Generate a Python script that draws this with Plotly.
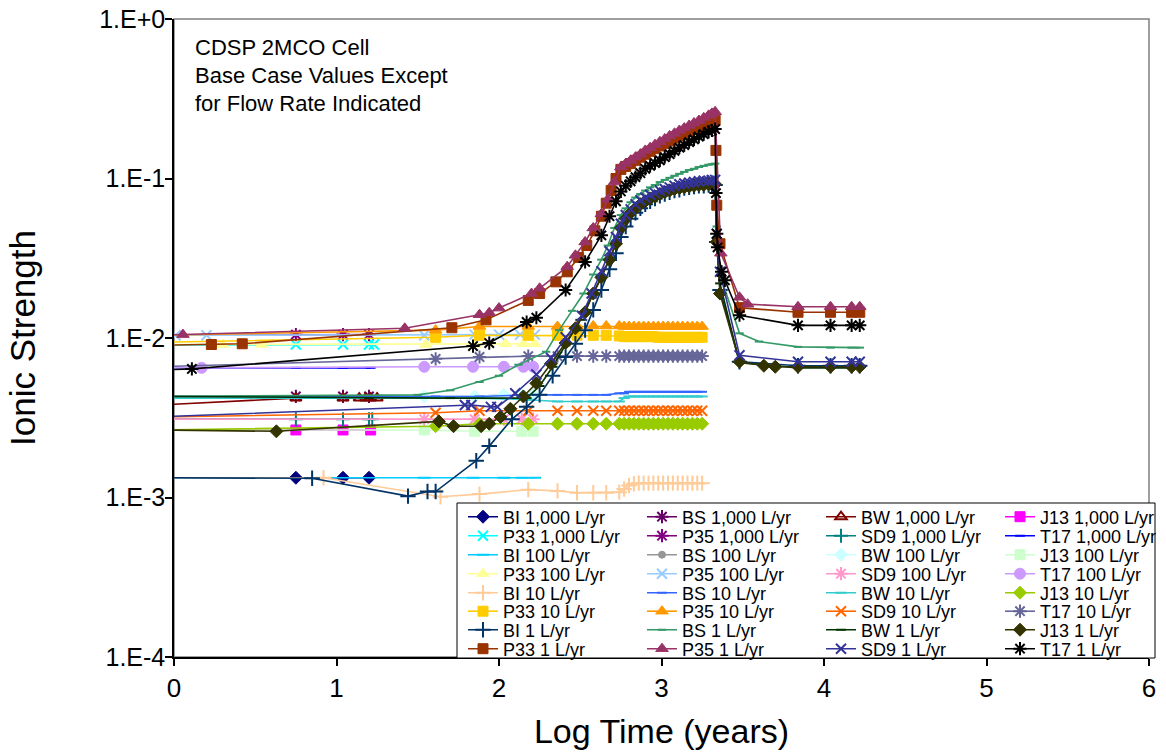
import plotly.graph_objects as go

# ------------------------------------------------------------------
# Data: x = log10 time (years), y = ionic strength (molal)
# ------------------------------------------------------------------
# ---- 1,000 L/yr ----
t_BI_1000 = [-0.1, 0.75, 1.04, 1.20]
v_BI_1000 = [0.00133, 0.00133, 0.00133, 0.00133]
t_BS_1000 = [-0.1, 0.75, 1.04, 1.20]
v_BS_1000 = [0.0043, 0.0043, 0.0043, 0.0043]
t_BW_1000 = [-0.1, 0.75, 1.04, 1.14, 1.18, 1.21, 1.25]
v_BW_1000 = [0.0038, 0.0042, 0.0042, 0.0042, 0.0042, 0.0042, 0.0042]
t_J13_1000 = [-0.1, 0.75, 1.04, 1.21]
v_J13_1000 = [0.00265, 0.00265, 0.00265, 0.00265]
t_P33_1000 = [-0.1, 0.75, 1.04, 1.20, 1.23]
v_P33_1000 = [0.0090, 0.0091, 0.0091, 0.0091, 0.0091]
t_P35_1000 = [-0.1, 0.75, 1.04, 1.20]
v_P35_1000 = [0.0104, 0.0105, 0.0105, 0.0105]
t_SD9_1000 = [-0.1, 0.75, 1.04, 1.20, 1.22]
v_SD9_1000 = [0.0031, 0.0031, 0.0031, 0.0031, 0.0031]
t_T17_1000 = [-0.1, 0.75, 1.04, 1.21]
v_T17_1000 = [0.0065, 0.0065, 0.0065, 0.0065]

# ---- 100 L/yr ----
t_BI_100 = [-0.1, 1.54, 1.84, 2.03, 2.14, 2.22]
v_BI_100 = [0.00133, 0.00133, 0.00133, 0.00133, 0.00133, 0.00133]
t_BS_100 = [-0.1, 1.54, 1.85, 2.03, 2.14, 2.21]
v_BS_100 = [0.0043, 0.0043, 0.0043, 0.0044, 0.0044, 0.0044]
t_BW_100 = [-0.1, 1.54, 1.85, 2.03, 2.14, 2.21]
v_BW_100 = [0.0043, 0.0043, 0.0043, 0.0044, 0.0044, 0.0044]
t_J13_100 = [-0.1, 1.54, 1.85, 2.14, 2.21]
v_J13_100 = [0.00265, 0.00265, 0.0026, 0.0026, 0.0026]
t_P33_100 = [-0.1, 0.30, 0.54, 1.55, 1.85, 2.04, 2.15, 2.22]
v_P33_100 = [0.0091, 0.0091, 0.0091, 0.0091, 0.0091, 0.0092, 0.0092, 0.0092]
t_P35_100 = [0.01, 0.20, 1.54, 1.85, 2.00, 2.13, 2.22]
v_P35_100 = [0.0104, 0.0104, 0.0104, 0.0105, 0.0105, 0.0105, 0.0105]
t_SD9_100 = [-0.1, 1.54, 1.85, 2.03, 2.14, 2.21]
v_SD9_100 = [0.0031, 0.0031, 0.0031, 0.0031, 0.0031, 0.0031]
t_T17_100 = [-0.1, 0.17, 1.54, 1.84, 2.03, 2.15, 2.21]
v_T17_100 = [0.0065, 0.0065, 0.0066, 0.0066, 0.0066, 0.0066, 0.0066]

# ---- 10 L/yr ----
t_10 = [-0.1, 1.61, 1.88, 2.18, 2.36, 2.48, 2.58, 2.66, 2.74, 2.77, 2.80, 2.83, 2.86,
        2.89, 2.92, 2.95, 2.98, 3.01, 3.04, 3.07, 3.10, 3.13, 3.16, 3.19, 3.22, 3.25]
t_BI_10 = [-0.1, 0.92, 1.64, 1.88, 2.18, 2.36, 2.48, 2.58, 2.66, 2.74, 2.77, 2.80, 2.83,
           2.86, 2.89, 2.92, 2.95, 2.98, 3.01, 3.04, 3.07, 3.10, 3.13, 3.16, 3.19, 3.22, 3.25]
v_BI_10 = [0.00133, 0.00133, 0.00101, 0.00105, 0.00112, 0.00110, 0.00107, 0.00107, 0.00107,
           0.00108, 0.00113, 0.00119, 0.00122, 0.00123, 0.00123, 0.00123, 0.00123, 0.00123,
           0.00123, 0.00123, 0.00123, 0.00123, 0.00123, 0.00123, 0.00123, 0.00123, 0.00123]
v_BS_10 = [0.0043, 0.0043, 0.0043, 0.0044, 0.0044, 0.0044, 0.0044, 0.0044, 0.0045, 0.0045,
           0.0046, 0.0046, 0.0046, 0.0046, 0.0046, 0.0046, 0.0046, 0.0046, 0.0046, 0.0046,
           0.0046, 0.0046, 0.0046, 0.0046, 0.0046, 0.0046]
v_BW_10 = [0.0042, 0.0042, 0.0042, 0.0041, 0.0040, 0.0040, 0.0040, 0.0040, 0.0040, 0.0042,
           0.0043, 0.0043, 0.0043, 0.0043, 0.0043, 0.0043, 0.0043, 0.0043, 0.0043, 0.0043,
           0.0043, 0.0043, 0.0043, 0.0043, 0.0043, 0.0043]
v_J13_10 = [0.00265, 0.0028, 0.0029, 0.0029, 0.0029, 0.0029, 0.0029, 0.0029, 0.0029, 0.0029,
            0.0029, 0.0029, 0.0029, 0.0029, 0.0029, 0.0029, 0.0029, 0.0029, 0.0029, 0.0029,
            0.0029, 0.0029, 0.0029, 0.0029, 0.0029, 0.0029]
v_P33_10 = [0.0094, 0.0101, 0.0104, 0.0104, 0.0104, 0.0104, 0.0104, 0.0104, 0.0103, 0.0102,
            0.0102, 0.0102, 0.0102, 0.0102, 0.0102, 0.0102, 0.0101, 0.0101, 0.0101, 0.0101,
            0.0101, 0.0101, 0.0101, 0.0101, 0.0101, 0.0101]
v_P35_10 = [0.0104, 0.0112, 0.0118, 0.0118, 0.0118, 0.0119, 0.0119, 0.0119, 0.0119, 0.0118,
            0.0118, 0.0118, 0.0118, 0.0118, 0.0118, 0.0118, 0.0118, 0.0118, 0.0118, 0.0118,
            0.0118, 0.0118, 0.0118, 0.0118, 0.0118, 0.0118]
v_SD9_10 = [0.0032, 0.0034, 0.0035, 0.0035, 0.0035, 0.0035, 0.0035, 0.0035, 0.0035, 0.0035,
            0.0035, 0.0035, 0.0035, 0.0035, 0.0035, 0.0035, 0.0035, 0.0035, 0.0035, 0.0035,
            0.0035, 0.0035, 0.0035, 0.0035, 0.0035, 0.0035]
v_T17_10 = [0.0066, 0.0074, 0.0076, 0.0077, 0.0077, 0.0077, 0.0077, 0.0077, 0.0077, 0.0077,
            0.0077, 0.0077, 0.0077, 0.0077, 0.0077, 0.0077, 0.0077, 0.0077, 0.0077, 0.0077,
            0.0077, 0.0077, 0.0077, 0.0077, 0.0077, 0.0077]

# ---- 1 L/yr ----
t_1_peak = [2.75, 2.78, 2.81, 2.84, 2.87, 2.90, 2.93, 2.96, 2.99, 3.02, 3.05,
            3.08, 3.11, 3.14, 3.17, 3.20, 3.23, 3.26, 3.29, 3.31, 3.33]
t_1_tail = [3.48, 3.84, 4.04, 4.17, 4.22]

t_BI_1 = [-0.1, 0.85, 1.44, 1.56, 1.61, 1.86, 1.94, 2.08, 2.17, 2.25, 2.33, 2.41, 2.47,
          2.53, 2.58, 2.63, 2.68, 2.72] + t_1_peak + [3.34, 3.36] + t_1_tail
v_BI_1 = [0.00133, 0.00132, 0.00102, 0.00109, 0.00109, 0.0017, 0.0021, 0.0031, 0.0037,
          0.0044, 0.0058, 0.0076, 0.0092, 0.0112, 0.015, 0.020, 0.027, 0.034,
          0.043, 0.050, 0.056, 0.061, 0.065, 0.069, 0.072, 0.075, 0.078, 0.080, 0.082,
          0.084, 0.085, 0.087, 0.088, 0.089, 0.090, 0.090, 0.091, 0.091, 0.091,
          0.040, 0.020,
          0.0071, 0.0067, 0.0067, 0.0067, 0.0067]

t_BS_1 = [-0.1, 1.50, 1.70, 1.88, 2.00, 2.12, 2.29, 2.37, 2.45, 2.52, 2.58, 2.63, 2.67,
          2.71] + t_1_peak + [3.34, 3.36] + [3.48, 3.60, 3.84, 4.04, 4.17, 4.22]
v_BS_1 = [0.0043, 0.0044, 0.0047, 0.0053, 0.0058, 0.0068, 0.0082, 0.0112, 0.0148, 0.019,
          0.025, 0.031, 0.038, 0.049,
          0.059, 0.065, 0.071, 0.076, 0.080, 0.084, 0.088, 0.091, 0.095, 0.098, 0.101,
          0.104, 0.107, 0.110, 0.113, 0.115, 0.118, 0.120, 0.122, 0.123, 0.124,
          0.050, 0.025,
          0.0107, 0.0095, 0.0088, 0.0087, 0.0087, 0.0087]

t_BW_1 = [-0.1, 1.20, 1.70, 2.17, 2.25, 2.33, 2.41, 2.50, 2.58, 2.63, 2.68,
          2.72] + t_1_peak + [3.34, 3.36] + t_1_tail
v_BW_1 = [0.0043, 0.0042, 0.0042, 0.0042, 0.0050, 0.0066, 0.0090, 0.013, 0.019, 0.024,
          0.031, 0.039,
          0.050, 0.057, 0.062, 0.066, 0.070, 0.073, 0.076, 0.078, 0.080, 0.082, 0.084,
          0.086, 0.087, 0.088, 0.089, 0.090, 0.091, 0.091, 0.092, 0.092, 0.092,
          0.040, 0.022,
          0.0070, 0.0065, 0.0065, 0.0065, 0.0065]

t_J13_1 = [-0.1, 0.63, 1.63, 1.72, 1.89, 1.94, 2.01, 2.07, 2.15, 2.23, 2.32, 2.41, 2.47,
           2.53, 2.58, 2.63, 2.68, 2.72] + t_1_peak + [3.34, 3.36] + [3.48, 3.63, 3.70,
                                                                     3.84, 4.04, 4.17, 4.22]
v_J13_1 = [0.00265, 0.0026, 0.0030, 0.0028, 0.0028, 0.0029, 0.0032, 0.0036, 0.0043,
           0.0052, 0.0069, 0.0093, 0.0115, 0.0145, 0.019, 0.024, 0.031, 0.039,
           0.049, 0.056, 0.061, 0.065, 0.069, 0.072, 0.075, 0.077, 0.080, 0.082, 0.084,
           0.086, 0.087, 0.088, 0.089, 0.090, 0.091, 0.091, 0.092, 0.092, 0.092,
           0.040, 0.019,
           0.0071, 0.0067, 0.0066, 0.0066, 0.0066, 0.0066, 0.0066]

t_P33_1 = [-0.1, 0.23, 0.42, 1.71, 1.92, 2.18, 2.25, 2.35, 2.42, 2.49, 2.54, 2.59, 2.63,
           2.66, 2.69, 2.72] + t_1_peak + [3.335, 3.34, 3.36] + t_1_tail
v_P33_1 = [0.0090, 0.0091, 0.0092, 0.0116, 0.0130, 0.0172, 0.0190, 0.0225, 0.026, 0.032,
           0.038, 0.047, 0.058, 0.070, 0.084, 0.100,
           0.114, 0.119, 0.124, 0.130, 0.136, 0.142, 0.148, 0.154, 0.160, 0.166, 0.172,
           0.179, 0.185, 0.191, 0.197, 0.203, 0.209, 0.215, 0.222, 0.227, 0.232,
           0.150, 0.068, 0.039,
           0.0155, 0.0145, 0.0145, 0.0145, 0.0145]

t_P35_1 = [-0.1, 0.055, 1.42, 1.88, 1.94, 2.00, 2.20, 2.25, 2.42, 2.47, 2.53, 2.58, 2.63,
           2.67, 2.71] + t_1_peak + [3.365] + [3.48, 3.53, 3.84, 4.04, 4.17, 4.22]
v_P35_1 = [0.0104, 0.0105, 0.0115, 0.0140, 0.0144, 0.0154, 0.019, 0.0205, 0.028, 0.033,
           0.040, 0.049, 0.060, 0.074, 0.095,
           0.118, 0.124, 0.130, 0.136, 0.142, 0.150, 0.156, 0.163, 0.170, 0.177, 0.185,
           0.192, 0.200, 0.207, 0.215, 0.223, 0.231, 0.240, 0.249, 0.256, 0.262,
           0.034,
           0.0180, 0.0163, 0.0157, 0.0157, 0.0157, 0.0157]

t_SD9_1 = [-0.1, 1.79, 1.83, 1.95, 1.99, 2.10, 2.23, 2.32, 2.41, 2.51, 2.57, 2.63, 2.68,
           2.72] + t_1_peak + [3.34, 3.36] + t_1_tail
v_SD9_1 = [0.0032, 0.0038, 0.0038, 0.0037, 0.0037, 0.0045, 0.0059, 0.0075, 0.0101, 0.0138,
           0.019, 0.0262, 0.035, 0.043,
           0.052, 0.059, 0.064, 0.069, 0.073, 0.076, 0.079, 0.081, 0.084, 0.086, 0.088,
           0.090, 0.092, 0.093, 0.094, 0.095, 0.096, 0.097, 0.097, 0.098, 0.098,
           0.045, 0.026,
           0.0078, 0.0071, 0.0071, 0.0071, 0.0071]

t_T17_1 = [-0.1, 0.11, 1.84, 1.94, 2.17, 2.23, 2.41, 2.53, 2.63, 2.68,
           2.72] + t_1_peak + [3.335, 3.34, 3.345, 3.37, 3.39] + t_1_tail
v_T17_1 = [0.0063, 0.0064, 0.0089, 0.0093, 0.0126, 0.0134, 0.020, 0.030, 0.044, 0.058,
           0.072,
           0.083, 0.090, 0.096, 0.102, 0.108, 0.115, 0.120, 0.125, 0.130, 0.136, 0.142,
           0.149, 0.156, 0.162, 0.169, 0.176, 0.183, 0.190, 0.196, 0.200, 0.204,
           0.081, 0.045, 0.037, 0.026, 0.023,
           0.0139, 0.0120, 0.0120, 0.0120, 0.0120]

# ------------------------------------------------------------------
# Series order (Excel row-major legend order) and styles
# ------------------------------------------------------------------
rows = [
    [("BI 1,000 L/yr", t_BI_1000, v_BI_1000), ("BS 1,000 L/yr", t_BS_1000, v_BS_1000),
     ("BW 1,000 L/yr", t_BW_1000, v_BW_1000), ("J13 1,000 L/yr", t_J13_1000, v_J13_1000)],
    [("P33 1,000 L/yr", t_P33_1000, v_P33_1000), ("P35 1,000 L/yr", t_P35_1000, v_P35_1000),
     ("SD9 1,000 L/yr", t_SD9_1000, v_SD9_1000), ("T17 1,000 L/yr", t_T17_1000, v_T17_1000)],
    [("BI 100 L/yr", t_BI_100, v_BI_100), ("BS 100 L/yr", t_BS_100, v_BS_100),
     ("BW 100 L/yr", t_BW_100, v_BW_100), ("J13 100 L/yr", t_J13_100, v_J13_100)],
    [("P33 100 L/yr", t_P33_100, v_P33_100), ("P35 100 L/yr", t_P35_100, v_P35_100),
     ("SD9 100 L/yr", t_SD9_100, v_SD9_100), ("T17 100 L/yr", t_T17_100, v_T17_100)],
    [("BI 10 L/yr", t_BI_10, v_BI_10), ("BS 10 L/yr", t_10, v_BS_10),
     ("BW 10 L/yr", t_10, v_BW_10), ("J13 10 L/yr", t_10, v_J13_10)],
    [("P33 10 L/yr", t_10, v_P33_10), ("P35 10 L/yr", t_10, v_P35_10),
     ("SD9 10 L/yr", t_10, v_SD9_10), ("T17 10 L/yr", t_10, v_T17_10)],
    [("BI 1 L/yr", t_BI_1, v_BI_1), ("BS 1 L/yr", t_BS_1, v_BS_1),
     ("BW 1 L/yr", t_BW_1, v_BW_1), ("J13 1 L/yr", t_J13_1, v_J13_1)],
    [("P33 1 L/yr", t_P33_1, v_P33_1), ("P35 1 L/yr", t_P35_1, v_P35_1),
     ("SD9 1 L/yr", t_SD9_1, v_SD9_1), ("T17 1 L/yr", t_T17_1, v_T17_1)],
]

styles = {
    "BI 1,000 L/yr": ("#000080", "diamond", 10),
    "BS 1,000 L/yr": ("#660066", "asterisk-open", 11),
    "BW 1,000 L/yr": ("#800000", "triangle-up-open", 10),
    "J13 1,000 L/yr": ("#FF00FF", "square", 10),
    "P33 1,000 L/yr": ("#00FFFF", "x-thin-open", 10),
    "P35 1,000 L/yr": ("#800080", "asterisk-open", 11),
    "SD9 1,000 L/yr": ("#008080", "cross-thin-open", 10),
    "T17 1,000 L/yr": ("#0000FF", "line-ew-open", 7),
    "BI 100 L/yr": ("#00CCFF", "line-ew-open", 9),
    "BS 100 L/yr": ("#969696", "circle", 7),
    "BW 100 L/yr": ("#CCFFFF", "diamond", 10),
    "J13 100 L/yr": ("#CCFFCC", "square", 10),
    "P33 100 L/yr": ("#FFFF99", "triangle-up", 11),
    "P35 100 L/yr": ("#99CCFF", "x-thin-open", 10),
    "SD9 100 L/yr": ("#FF99CC", "asterisk-open", 11),
    "T17 100 L/yr": ("#CC99FF", "circle", 11),
    "BI 10 L/yr": ("#FFCC99", "cross-thin-open", 11),
    "BS 10 L/yr": ("#3366FF", "line-ew-open", 7),
    "BW 10 L/yr": ("#33CCCC", "line-ew-open", 8),
    "J13 10 L/yr": ("#99CC00", "diamond", 10),
    "P33 10 L/yr": ("#FFCC00", "square", 10),
    "P35 10 L/yr": ("#FF9900", "triangle-up", 11),
    "SD9 10 L/yr": ("#FF6600", "x-thin-open", 10),
    "T17 10 L/yr": ("#666699", "asterisk-open", 11),
    "BI 1 L/yr": ("#003366", "cross-thin-open", 11),
    "BS 1 L/yr": ("#339966", "line-ew-open", 6),
    "BW 1 L/yr": ("#003300", "line-ew-open", 7),
    "J13 1 L/yr": ("#333300", "diamond", 10),
    "P33 1 L/yr": ("#993300", "square", 10),
    "P35 1 L/yr": ("#993366", "triangle-up", 11),
    "SD9 1 L/yr": ("#333399", "x-thin-open", 10),
    "T17 1 L/yr": ("#000000", "asterisk-open", 11),
}

FONT = "Arial, Liberation Sans, sans-serif"
W, H = 1166, 752
ML, MR, MT, MB = 174, 17, 19, 95
PW, PH = W - ML - MR, H - MT - MB


def px_x(px):
    return (px - ML) / PW


def px_y(py):
    return (H - MB - py) / PH


fig = go.Figure()
row_centers = [517, 536, 555, 574, 593, 611.5, 630, 649]
legend_layouts = {}
for r, row in enumerate(rows):
    lid = "legend" if r == 0 else f"legend{r + 1}"
    for name, t, v in row:
        color, symbol, size = styles[name]
        if symbol.endswith("-open"):
            marker = dict(symbol=symbol, size=size, color=color,
                          line=dict(color=color, width=2))
        else:
            marker = dict(symbol=symbol, size=size, color=color,
                          line=dict(color=color, width=1))
        fig.add_trace(go.Scatter(
            x=t, y=v, name=name, mode="lines+markers",
            line=dict(color=color, width=1.6),
            marker=marker, legend=lid,
        ))
    legend_layouts[lid] = dict(
        orientation="h", x=px_x(463), xanchor="left",
        y=px_y(row_centers[r]), yanchor="middle",
        entrywidth=134, entrywidthmode="pixels",
        bgcolor="rgba(0,0,0,0)", borderwidth=0,
        font=dict(family=FONT, size=18, color="#000000"),
        itemclick=False, itemdoubleclick=False,
    )

fig.update_layout(**legend_layouts)

fig.update_layout(
    width=W, height=H,
    margin=dict(l=ML, r=MR, t=MT, b=MB, autoexpand=False),
    paper_bgcolor="#FFFFFF", plot_bgcolor="#FFFFFF",
    font=dict(family=FONT, color="#000000"),
    showlegend=True,
    xaxis=dict(
        range=[0, 6], tickvals=[0, 1, 2, 3, 4, 5, 6],
        ticks="outside", ticklen=7, tickwidth=1.5, tickcolor="#000000",
        showline=True, linecolor="#000000", linewidth=1.5,
        showgrid=False, zeroline=False,
        tickfont=dict(family=FONT, size=26, color="#000000"),
        title=dict(text="Log Time (years)", standoff=17,
                   font=dict(family=FONT, size=34, color="#000000")),
        automargin=False,
    ),
    yaxis=dict(
        type="log", range=[-4, 0],
        tickvals=[1e-4, 1e-3, 1e-2, 1e-1, 1],
        ticktext=["1.E-4", "1.E-3", "1.E-2", "1.E-1", "1.E+0"],
        ticks="outside", ticklen=7, tickwidth=1.5, tickcolor="#000000",
        ticklabelstandoff=-5,
        showline=True, linecolor="#000000", linewidth=1.5,
        showgrid=False, zeroline=False,
        tickfont=dict(family=FONT, size=25, color="#000000"),
        title=dict(text="Ionic Strength", standoff=53,
                   font=dict(family=FONT, size=35, color="#000000")),
        automargin=False,
    ),
    shapes=[
        # plot-area frame (top/right in gray)
        dict(type="rect", xref="paper", yref="paper", x0=0, x1=1, y0=0, y1=1,
             line=dict(color="#808080", width=1.5), fillcolor="rgba(0,0,0,0)",
             layer="below"),
        # legend box
        dict(type="rect", xref="paper", yref="paper",
             x0=px_x(457), x1=px_x(1155), y0=px_y(658), y1=px_y(503),
             line=dict(color="#000000", width=1), fillcolor="#FFFFFF",
             layer="above"),
    ],
    annotations=[
        dict(text="CDSP 2MCO Cell", xref="paper", yref="paper",
             x=px_x(193), y=px_y(47), xanchor="left", yanchor="middle",
             showarrow=False, font=dict(family=FONT, size=22, color="#000000")),
        dict(text="Base Case Values Except", xref="paper", yref="paper",
             x=px_x(193), y=px_y(75), xanchor="left", yanchor="middle",
             showarrow=False, font=dict(family=FONT, size=22, color="#000000")),
        dict(text="for Flow Rate Indicated", xref="paper", yref="paper",
             x=px_x(193), y=px_y(103), xanchor="left", yanchor="middle",
             showarrow=False, font=dict(family=FONT, size=22, color="#000000")),
    ],
)

fig.write_html(
    "out.html",
    config={"displayModeBar": False},
    post_script="document.body.style.margin='0';document.body.style.overflow='hidden';",
)
